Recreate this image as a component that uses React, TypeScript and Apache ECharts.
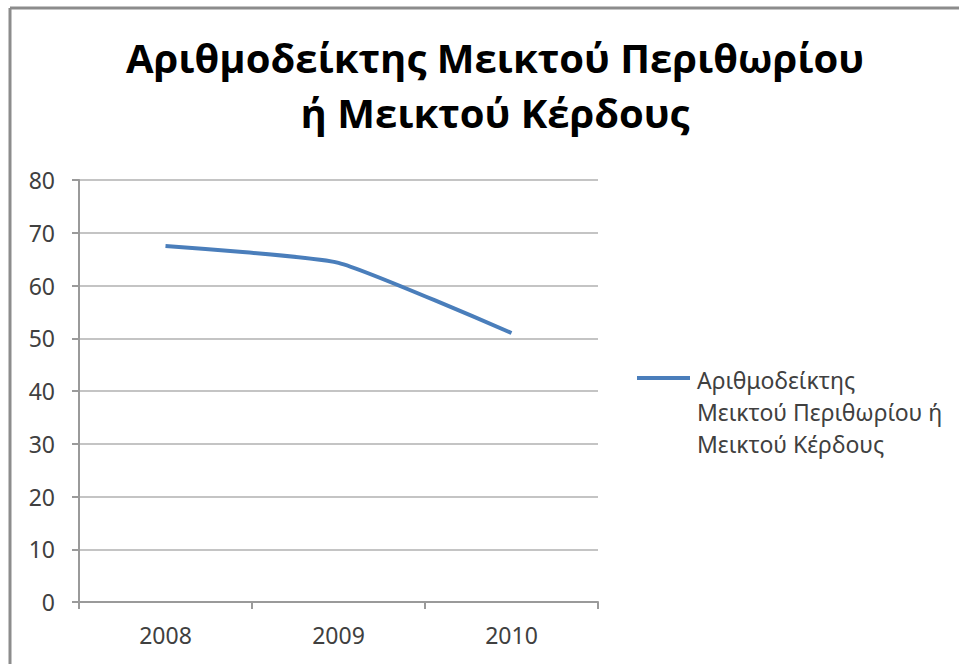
import React, { useEffect, useRef } from "react";
import * as echarts from "echarts";

const titleLines = ["Αριθμοδείκτης Μεικτού Περιθωρίου", "ή Μεικτού Κέρδους"];
const categories = ["2008", "2009", "2010"];
const seriesName = "Αριθμοδείκτης Μεικτού Περιθωρίου ή Μεικτού Κέρδους";
const legendLines = ["Αριθμοδείκτης", "Μεικτού Περιθωρίου ή", "Μεικτού Κέρδους"];
const values = [67.5, 64.3, 51.0];
const yTicks = [0, 10, 20, 30, 40, 50, 60, 70, 80];

export default function App() {
  const ref = useRef<HTMLDivElement>(null);
  useEffect(() => {
    if (!ref.current) return;
    const chart = echarts.init(ref.current, undefined, { renderer: "svg" });
    const lineColor = "#4a7ebb";
    chart.setOption({
      animation: false,
      backgroundColor: "#ffffff",
      title: {
        text: titleLines.join("\n"),
        left: 490,
        top: 25,
        textAlign: "center",
        textStyle: {
          fontFamily: "Open Sans",
          fontWeight: "bold",
          fontSize: 40,
          lineHeight: 55,
          color: "#000000",
        },
      },
      grid: { left: 79, right: 361, top: 180, bottom: 62, containLabel: false },
      xAxis: {
        type: "category",
        data: categories,
        boundaryGap: true,
        axisLine: { show: true, lineStyle: { color: "#9a9a9a", width: 2 } },
        axisTick: { show: true, length: 7, lineStyle: { color: "#9a9a9a", width: 2 } },
        axisLabel: { color: "#404040", fontSize: 23, fontFamily: "Noto Sans", margin: 21 },
        splitLine: { show: false },
      },
      yAxis: {
        type: "value",
        min: yTicks[0],
        max: yTicks[yTicks.length - 1],
        interval: 10,
        axisLine: { show: true, lineStyle: { color: "#9a9a9a", width: 2 } },
        axisTick: { show: true, length: 7, lineStyle: { color: "#9a9a9a", width: 2 } },
        axisLabel: { color: "#404040", fontSize: 23, fontFamily: "Noto Sans", margin: 24 },
        splitLine: { show: true, lineStyle: { color: "#c4c4c4", width: 2 } },
      },
      series: [
        {
          name: seriesName,
          type: "line",
          data: values,
          showSymbol: false,
          symbol: "none",
          smooth: 0.15,
          lineStyle: { color: lineColor, width: 4 },
          itemStyle: { color: lineColor },
        },
      ],
      graphic: [
        {
          type: "line",
          shape: { x1: 10, y1: 8, x2: 959, y2: 8 },
          style: { stroke: "#8c8c8c", lineWidth: 3 },
        },
        {
          type: "line",
          shape: { x1: 10, y1: 8, x2: 10, y2: 664 },
          style: { stroke: "#8c8c8c", lineWidth: 3 },
        },
        {
          type: "line",
          shape: { x1: 637, y1: 378, x2: 690, y2: 378 },
          style: { stroke: lineColor, lineWidth: 4 },
        },
        {
          type: "text",
          x: 697,
          y: 364,
          style: {
            text: legendLines.join("\n"),
            fontSize: 23,
            lineHeight: 32,
            fontFamily: "Noto Sans",
            fill: "#404040",
          },
        },
      ],
    });
    return () => chart.dispose();
  }, []);
  return (
    <div
      ref={ref}
      style={{ position: "absolute", left: 0, top: 0, width: 959, height: 664 }}
    />
  );
}
